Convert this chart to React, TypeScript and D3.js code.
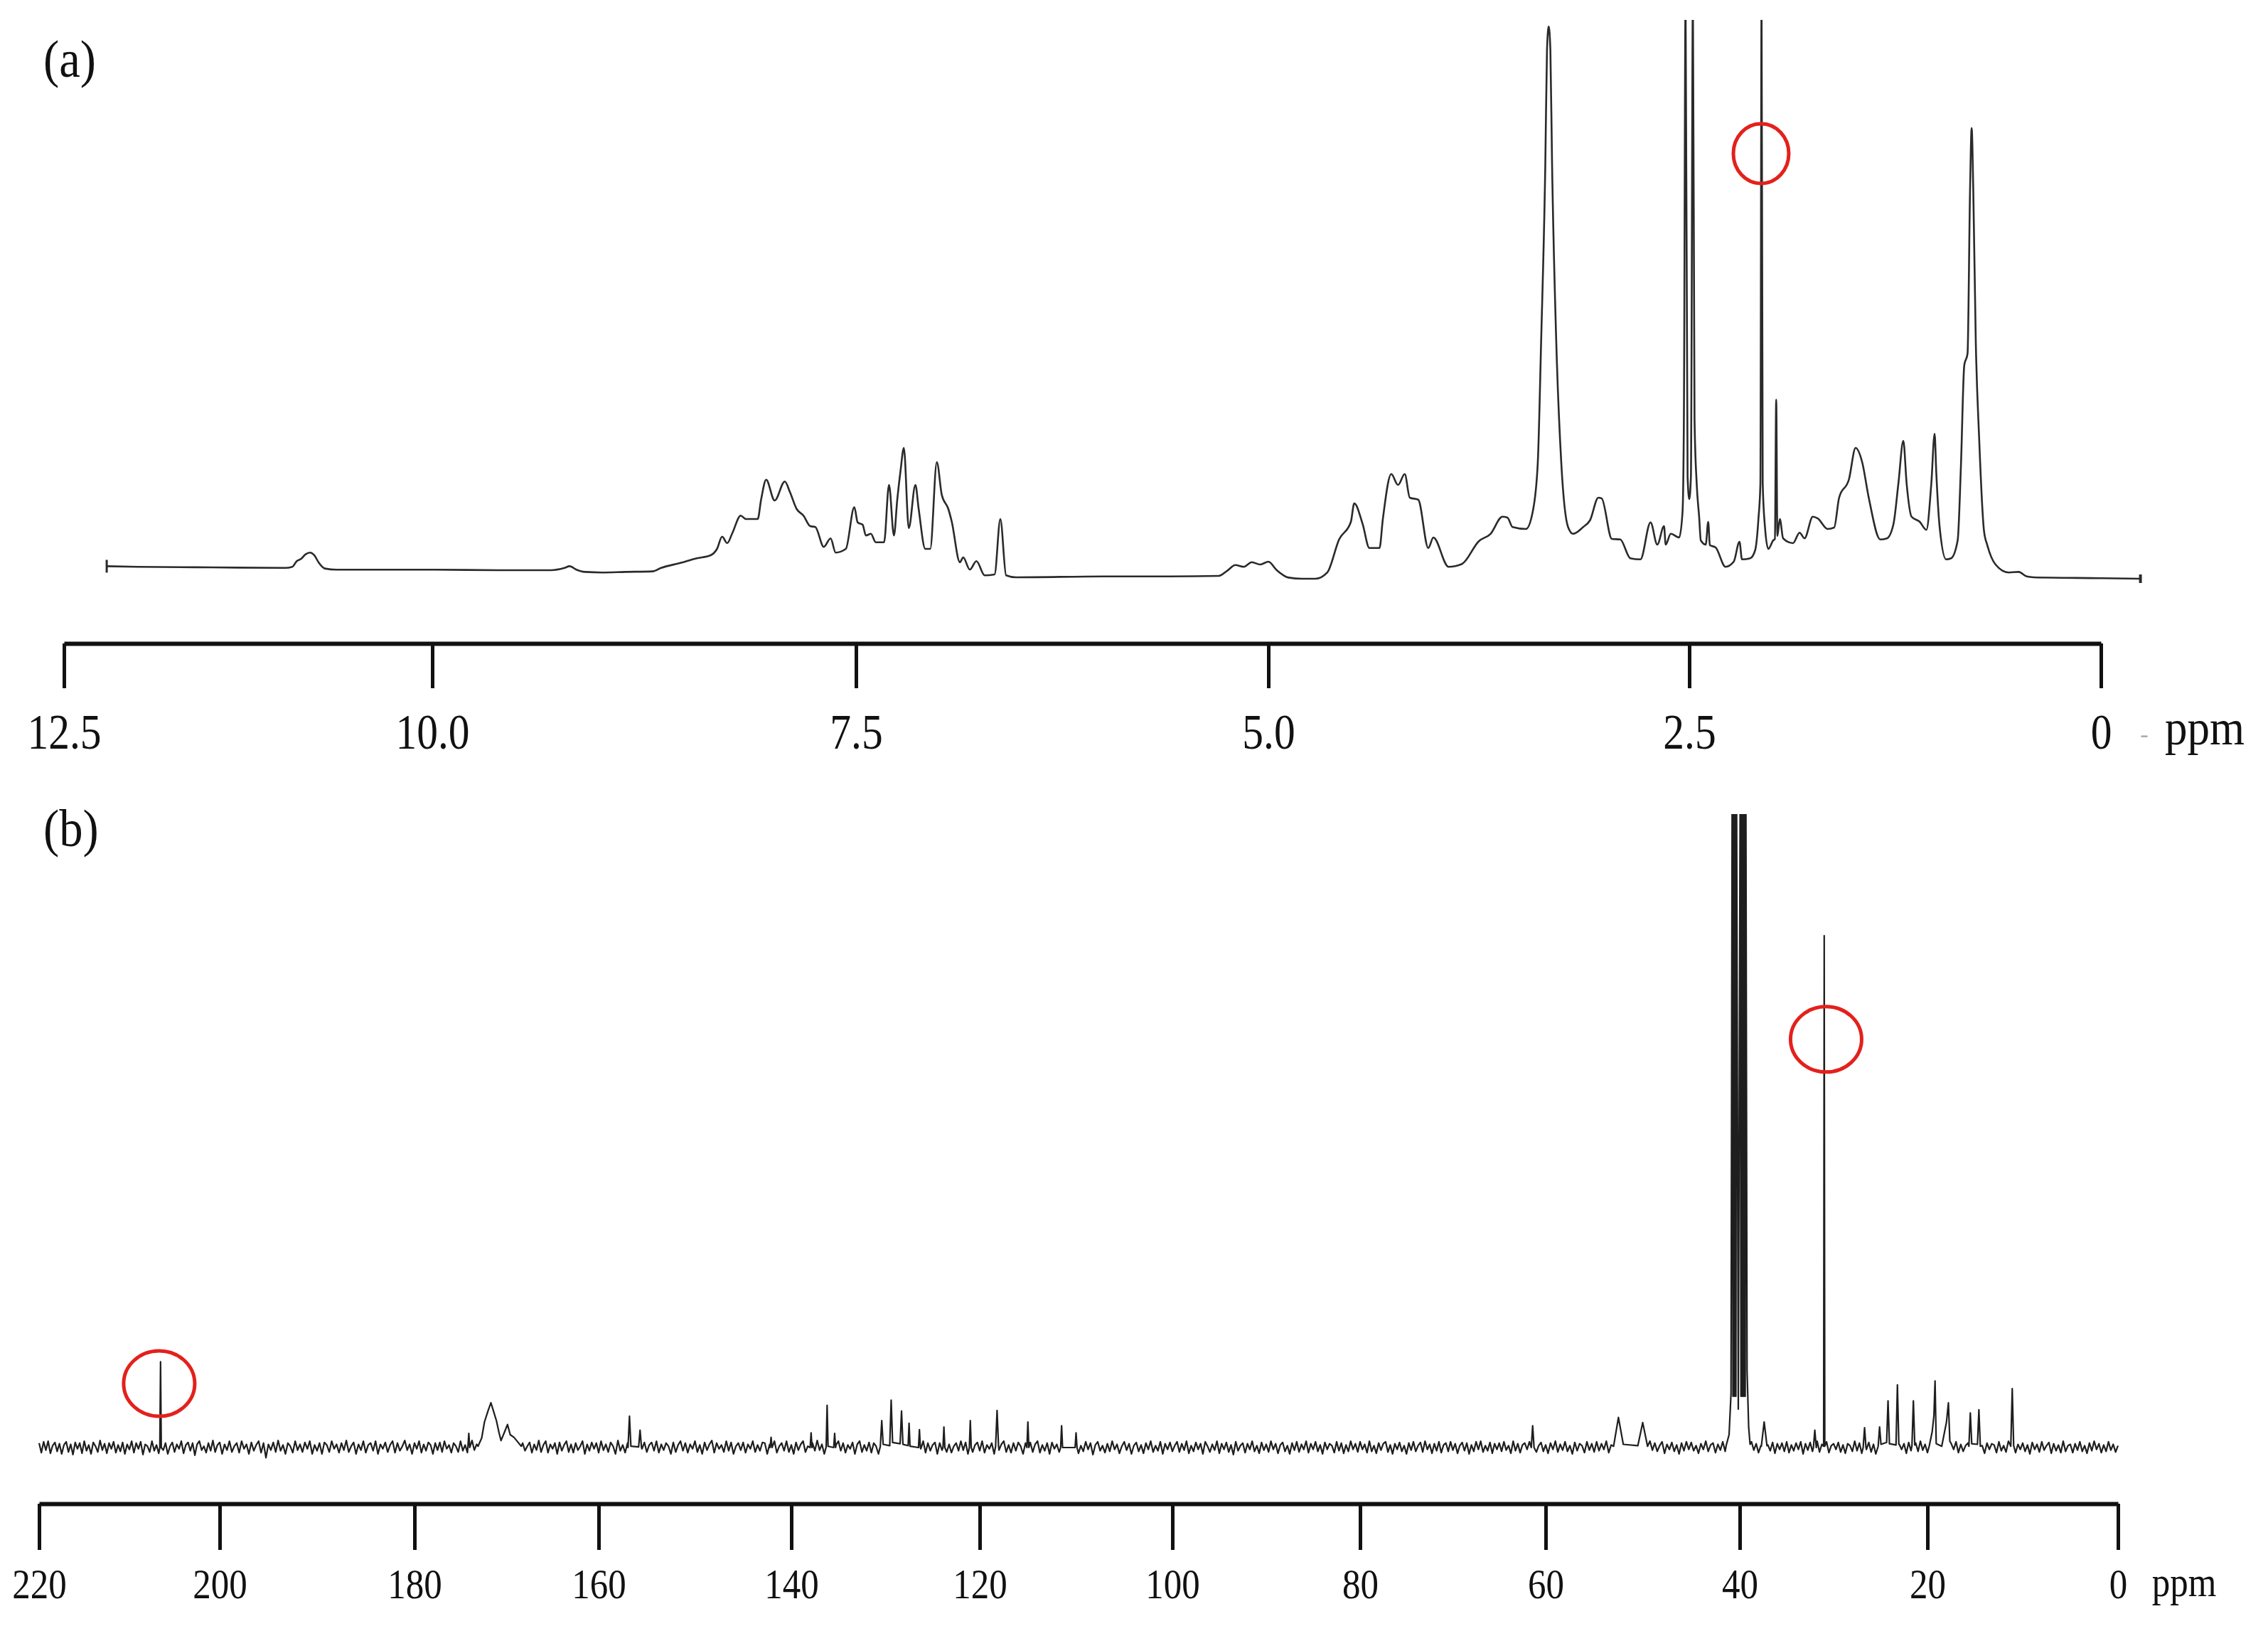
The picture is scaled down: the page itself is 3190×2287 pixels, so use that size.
import React, { useEffect, useRef } from "react";
import * as d3 from "d3";

const W = 3190;
const H = 2287;
const FONT = "'Liberation Serif', 'Times New Roman', serif";

// ---------- (a) 1H NMR ----------
const hTicks = [12.5, 10.0, 7.5, 5.0, 2.5, 0];
const hTickLabels = ["12.5", "10.0", "7.5", "5.0", "2.5", "0"];
// [ppm, relative intensity]
const hSpectrum: [number, number][] = [
  [12.21, 4.2], [12.0, 4.1], [11.5, 4.0], [11.0, 3.9], [10.95, 4.1], [10.92, 5.1], [10.89, 5.5],
  [10.86, 6.3], [10.83, 6.6], [10.8, 6.1], [10.77, 4.8], [10.73, 3.8], [10.65, 3.6], [10.3, 3.6],
  [10.0, 3.6], [9.6, 3.5], [9.3, 3.5], [9.22, 3.9], [9.19, 4.2], [9.15, 3.6], [9.1, 3.2], [9.0, 3.1],
  [8.86, 3.2], [8.7, 3.3], [8.65, 3.9], [8.54, 4.75], [8.44, 5.6], [8.36, 6.1], [8.32, 7.25],
  [8.29, 9.4], [8.26, 8.25], [8.23, 10.0], [8.18, 13.1], [8.15, 12.5], [8.08, 12.5], [8.06, 15.9],
  [8.03, 19.4], [7.98, 15.75], [7.92, 19.1], [7.89, 17.25], [7.85, 14.25], [7.81, 13.1],
  [7.77, 11.25], [7.74, 11.1], [7.69, 7.6], [7.65, 9.1], [7.62, 6.6], [7.56, 7.25], [7.51, 14.6],
  [7.49, 11.9], [7.46, 11.5], [7.44, 9.6], [7.41, 9.9], [7.38, 8.4], [7.33, 8.4], [7.3, 18.5],
  [7.27, 9.6], [7.25, 15.9], [7.23, 21.0], [7.21, 25.0], [7.18, 10.9], [7.14, 18.5], [7.12, 14.25],
  [7.08, 7.25], [7.05, 7.25], [7.01, 22.5], [6.98, 16.75], [6.94, 14.25], [6.92, 12.1], [6.87, 4.9],
  [6.85, 5.75], [6.81, 3.6], [6.77, 5.1], [6.72, 2.6], [6.66, 2.75], [6.625, 12.5], [6.59, 2.6],
  [6.53, 2.25], [6.0, 2.4], [5.6, 2.4], [5.3, 2.5], [5.25, 3.4], [5.2, 4.4], [5.15, 4.1], [5.1, 4.9],
  [5.05, 4.5], [5.0, 5.0], [4.95, 3.5], [4.88, 2.2], [4.8, 2.0], [4.72, 2.0], [4.65, 3.1],
  [4.58, 8.9], [4.51, 12.0], [4.49, 15.25], [4.44, 11.6], [4.4, 7.4], [4.34, 7.4], [4.32, 12.5],
  [4.27, 20.4], [4.23, 18.5], [4.19, 20.4], [4.16, 16.25], [4.11, 15.9], [4.05, 7.4], [4.02, 9.25],
  [3.93, 4.1], [3.85, 4.6], [3.75, 8.6], [3.68, 9.9], [3.61, 12.9], [3.58, 12.75], [3.55, 11.1],
  [3.47, 10.75], [3.43, 13.75], [3.4, 22.25], [3.38, 43.6], [3.355, 75], [3.345, 95], [3.335, 99.1],
  [3.325, 95], [3.315, 75], [3.29, 43.6], [3.26, 22.25], [3.22, 11.1], [3.19, 9.9], [3.13, 11.1],
  [3.09, 12.25], [3.04, 16.25], [3.02, 16.1], [2.96, 9.0], [2.91, 8.9], [2.85, 5.6], [2.79, 5.4],
  [2.73, 11.9], [2.69, 8.0], [2.65, 11.25], [2.64, 8.0], [2.61, 9.9], [2.56, 9.25], [2.54, 13.75],
  [2.532, 30], [2.522, 104], [2.51, 20], [2.5, 16], [2.49, 20], [2.478, 104], [2.468, 30],
  [2.455, 18.75], [2.44, 12.9], [2.43, 8.75], [2.4, 8.0], [2.385, 12.0],
  [2.375, 7.9], [2.34, 7.5], [2.28, 4.1], [2.23, 5.0], [2.195, 8.5], [2.18, 5.4], [2.13, 5.6],
  [2.1, 7.0], [2.08, 12.5], [2.068, 18.75], [2.061, 104], [2.054, 18.75], [2.04, 11], [2.02, 7.25],
  [1.99, 8.75], [1.98, 9], [1.972, 33.5], [1.965, 9.5], [1.95, 12.5], [1.93, 9.1], [1.87, 8.25],
  [1.83, 10.1], [1.8, 9.1], [1.75, 12.9], [1.72, 12.6], [1.66, 10.75], [1.62, 11.0], [1.59, 16.25],
  [1.53, 19.5], [1.49, 25.0], [1.45, 22.5], [1.41, 16.25], [1.34, 8.9], [1.3, 9.1], [1.26, 11.6],
  [1.23, 18.75], [1.2, 26.25], [1.18, 18.75], [1.15, 12.9], [1.1, 12.0], [1.06, 10.6], [1.03, 18.75],
  [1.01, 27.5], [1.0, 20.75], [0.98, 11.25], [0.94, 5.4], [0.91, 5.6], [0.87, 8.75], [0.85, 22.0],
  [0.83, 39.5], [0.81, 41.6], [0.795, 70], [0.785, 81.25], [0.775, 70], [0.76, 43.75], [0.74, 27.0],
  [0.71, 10.4], [0.69, 7.9], [0.64, 4.5], [0.56, 3.1], [0.5, 3.2], [0.45, 2.4], [0.41, 2.25],
  [0.0, 2.1], [-0.24, 2.0],
];
const hMarks: [number, number][] = [[2.064, 76.75]];

// ---------- (b) 13C NMR ----------
const cTicks = [220, 200, 180, 160, 140, 120, 100, 80, 60, 40, 20, 0];
const cTickLabels = ["220", "200", "180", "160", "140", "120", "100", "80", "60", "40", "20", "0"];
// baseline noise every 0.25 ppm from 220 down to 0
const cNoise = [
  0.7, -0.8, 0.9, -0.4, 1.0, -0.9, 0.3, 0.8, -0.6, 0.6, -1.0, 0.4, 0.9, -0.7, 0.5, -1.1, 0.8, -0.2, 0.7, -0.9,
  1.0, -0.5, 0.4, -1.0, 0.8, 0.2, -0.7, 1.1, -0.4, 0.6, -0.9, 0.7, -0.2, 0.9, -0.8, 0.4, -0.6, 0.8, -1.0, 0.5,
  -0.3, 1.0, -0.8, 0.7, -0.2, 0.9, -1.1, 0.5, 0.2, -0.7, 1.0, -0.5, 0.4, -0.9, 1.1, -0.4, 0.7, -1.0, 0.2, 0.8,
  -0.7, 0.5, -0.2, 1.0, -0.9, 0.4, 0.8, -0.5, 0.7, -1.2, 0.5, 1.0, -0.4, 0.2, -0.8, 0.7, -0.5, 1.1, -0.7, 0.4,
  0.8, -1.0, 0.5, -0.4, 1.0, -0.7, 0.2, 0.7, -0.8, 1.0, -0.2, 0.5, -1.0, 0.8, -0.5, 0.4, 1.0, -0.8, 0.7, -1.6,
  0.5, -0.4, 0.8, -0.7, 1.1, -0.5, 0.4, -1.0, 0.7, 0.2, -0.8, 1.0, -0.4, 0.5, -0.7, 0.8, -0.2, 1.0, -1.0, 0.4,
  -0.5, 0.7, -1.0, 0.8, 0.4, -0.7, 1.0, -0.2, 0.5, -0.8, 0.7, -0.4, 1.1, -0.7, 0.2, 0.8, -1.0, 0.5, -0.4, 1.0,
  -0.8, 0.4, 0.7, -0.5, 1.0, -1.0, 0.5, -0.2, 0.8, -0.7, 0.4, 1.0, -0.8, 0.7, -0.5, 0.2, 1.1, -0.4, 0.5, -1.0,
  0.7, -0.2, 1.0, -0.8, 0.5, -0.5, 0.8, 0.4, -1.0, 0.7, -0.4, 0.8, -0.7, 1.0, -0.2, 0.4, -0.8, 0.7, 0.2, -0.7,
  1.0, -0.5, 0.4, -0.8, 0.7, 1.1, -0.4, 0.5, -1.0, 0.8, -0.7, 0.2, 1.0, -0.5, 0.7, -0.8, 0.4, -0.2, 0.8, -1.0,
  0.5, 0.8, -0.7, 0.4, -1.0, 1.0, -0.4, 0.7, -0.5, 0.2, 0.8, -0.8, 0.5, -0.4, 1.1, -0.7, 0.4, 1.0, -0.8, 0.5,
  -0.2, 0.7, -1.0, 0.8, -0.5, 0.4, 1.0, -0.7, 0.5, -0.8, 0.7, -0.4, 0.2, 1.0, -1.0, 0.5, -0.5, 0.8, -0.2, 0.7,
  -0.8, 1.0, -0.4, 0.5, -0.7, 0.8, 0.2, -1.0, 1.1, -0.5, 0.4, -0.8, 0.7, 1.0, -0.4, 0.5, -1.0, 0.7, -0.2, 0.8,
  -0.7, 0.4, 0.8, -0.5, 1.0, -0.8, 0.5, -0.4, 0.7, 0.2, -1.0, 0.8, -0.7, 0.4, 1.0, -0.5, 0.7, -0.8, 0.5, -0.2,
  1.0, -0.7, 0.4, -1.0, 0.8, -0.4, 0.5, 1.1, -0.8, 0.7, -0.2, 0.4, -0.7, 1.0, -0.5, 0.8, -1.0, 0.2, 0.7, -0.4,
  0.8, -0.8, 0.5, -0.2, 1.0, -0.7, 0.4, -0.5, 0.8, 0.7, -1.0, 0.5, -0.4, 1.0, -0.8, 0.2, 0.7, -0.5, 1.0, -0.7,
  0.4, -1.0, 0.8, -0.4, 0.5, 1.0, -0.7, 0.2, -0.8, 0.7, -0.5, 1.1, -0.4, 0.5, -1.0, 0.8, -0.2, 0.7, -0.7, 0.4,
  1.0, -0.5, 0.7, -0.8, 0.4, -0.2, 0.8, -1.0, 0.5, 1.0, -0.7, 0.4, -0.5, 0.8, -0.8, 0.7, 0.2, -1.0, 0.5, -0.4,
  0.8, -0.7, 1.0, -0.5, 0.2, 0.7, -0.8, 0.5, -0.4, 1.0, -1.0, 0.4, 0.8, -0.7, 0.5, -0.2, 1.0, -0.8, 0.7, -0.5,
  0.4, 0.8, -1.0, 0.7, -0.4, 1.0, -0.7, 0.5, -0.8, 0.2, 0.7, -0.5, 1.0, -0.4, 0.8, -1.0, 0.5, -0.7, 0.4, 0.8,
  -0.5, 1.0, -0.8, 0.4, -0.2, 0.7, -1.0, 0.8, -0.4, 0.5, 1.0, -0.7, 0.4, -0.8, 0.7, -0.5, 0.8, 0.2, -1.0, 0.7,
  -0.4, 0.8, -0.7, 0.5, 1.0, -0.8, 0.4, -0.5, 0.7, -1.0, 0.8, -0.2, 0.5, -0.7, 1.0, -0.4, 0.7, -0.8, 0.5, -0.2,
  0.6, -0.9, 0.3, -0.6, 0.9, -0.3, 0.7, -1.1, 0.4, 0.9, -0.5, 0.3, -0.8, 0.6, -0.6, 1.0, -0.3, 0.5, -0.9, 0.2,
  0.9, -0.4, 0.6, -1.0, 0.3, 0.8, -0.6, 0.4, -0.9, 0.7, -0.3, 1.0, -0.7, 0.3, -0.5, 0.9, -1.0, 0.6, -0.3, 0.8,
  -0.6, 0.3, 0.9, -0.7, 0.6, -0.4, 1.0, -0.9, 0.3, -0.6, 0.8, -0.3, 0.6, -1.0, 0.9, 0.2, -0.7, 0.5, -0.4, 1.0,
  -0.9, 0.6, -0.3, 0.8, -0.7, 0.4, -1.1, 0.9, -0.5, 0.3, 0.7, -0.8, 0.6, -0.3, 1.0, -0.6, 0.3, -0.9, 0.8, -0.4,
  0.5, -0.7, 1.0, -0.3, 0.6, -0.9, 0.4, 0.8, -0.6, 0.3, -1.0, 0.7, -0.4, 0.9, -0.7, 0.5, -0.3, 1.0, -0.8, 0.6,
  -0.3, 0.9, -0.6, 0.4, -1.0, 0.8, -0.3, 0.6, 0.3, -0.8, 0.9, -0.5, 0.7, -0.9, 0.4, -0.6, 1.0, -0.3, 0.6, -0.7,
  0.9, -0.3, 0.5, -0.8, 1.0, -0.6, 0.3, -0.9, 0.7, -0.4, 0.6, 0.9, -0.7, 0.4, -1.0, 0.6, -0.3, 0.8, -0.6, 0.3,
  -1.0, 0.7, -0.4, 0.9, -0.6, 0.3, 0.8, -0.7, 1.0, -0.3, 0.5, -0.9, 0.6, -0.5, 0.9, -0.8, 0.4, 0.7, -0.6, 0.9,
  -0.4, 0.6, -0.9, 0.3, 0.8, -0.5, 0.7, -1.0, 0.4, -0.6, 0.9, -0.3, 1.0, -0.7, 0.3, -0.5, 0.8, -0.9, 0.6, -0.3,
  0.7, -0.6, 0.9, -0.4, 0.3, -0.9, 1.0, -0.5, 0.6, -0.8, 0.4, 0.7, -0.3, 0.9, -1.0, 0.5, -0.7, 0.3, 0.8, -0.6,
  0.4, -0.9, 0.7, -0.3, 1.0, -0.7, 0.5, -0.4, 0.9, -0.6, 0.3, -1.0, 0.8, -0.5, 0.6, 0.3, -0.8, 0.9, -0.4, 0.6,
  -0.7, 0.9, -0.5, 0.6, -0.3, 1.0, -0.8, 0.4, -0.6, 0.7, -0.9, 0.3, 0.6, -0.4, 0.9, -0.7, 0.5, -1.0, 0.3, 0.7,
  -0.6, 0.4, -0.8, 1.0, -0.4, 0.7, -0.6, 0.3, 0.9, -0.9, 0.5, -0.3, 0.8, -0.6, 0.4, -1.0, 0.7, -0.5, 0.9, -0.3,
  0.8, -0.5, 0.3, -0.9, 0.6, -0.3, 1.0, -0.6, 0.4, 0.7, -0.8, 0.5, -0.4, 0.9, -0.6, 0.3, -0.9, 1.0, -0.5, 0.6,
  -0.3, 0.7, -1.0, 0.5, -0.6, 0.9, -0.4, 0.6, -0.8, 0.3, 1.0, -0.7, 0.4, -0.5, 0.8, -0.9, 0.6, -0.3, 0.7, -0.6,
  0.9, -0.8, 0.4, -0.5, 0.7, -0.3, 0.9, -1.0, 0.6, -0.4, 0.8, -0.6, 0.3, 1.0, -0.7, 0.5, -0.4, 0.9, -0.8, 0.3,
  0.6, -0.3, 0.8, -0.7, 0.4, -0.9, 0.6, 0.3, -0.6, 1.0, -0.5, 0.7, -0.9, 0.4, -0.3, 0.8, -0.7, 0.5, -1.0, 0.9,
  -0.5, 0.3, 0.9, -0.6, 0.7, -0.4, 1.0, -0.8, 0.5, -0.3, 0.6, -0.9, 0.8, -0.5, 0.3, 0.7, -0.6, 1.0, -0.4, 0.5,
  -0.8, 0.6, -0.3, 0.9, -0.7, 0.5, -0.5, 0.8, -1.0, 0.4, 0.6, -0.3, 0.9, -0.8, 0.5, -0.6, 0.3, 0.7, -0.9, 0.6,
  -0.4, 1.0, -0.6, 0.3, -0.9, 0.7, -0.3, 0.6, 0.4, -0.8, 0.9, -0.5, 0.3, -0.7, 1.0, -0.4, 0.6, -0.8, 0.5, -0.3,
  0.7, -0.6, 0.4, -1.0, 0.8, -0.3, 0.5, -0.7, 0.9, -0.4, 0.3, 0.8, -0.9, 0.6, -0.5, 0.4, -0.8, 1.0, -0.6, 0.3,
  0.5, -0.8, 0.6, -0.4, 0.9, -0.6, 0.3, -0.9, 0.7, -0.5, 1.0, -0.3, 0.6, -0.8, 0.4, -0.6, 0.9, -0.4, 0.5, -0.7,
  0.3,
];
// signals: groups of [ppm, intensity]
const cPeaks: [number, number][][] = [
  [[206.63, 0], [206.55, 13.4], [206.47, 0]],
  [[174.2, 0.1], [174.1, 2.2], [174.0, 0]],
  [[173.1, 0.2], [172.7, 1.5], [172.4, 4.0], [172.0, 5.8], [171.7, 7.0], [171.4, 5.6], [171.1, 4.2],
   [170.8, 2.2], [170.6, 1.1], [170.2, 2.5], [169.9, 3.6], [169.6, 2.0], [169.2, 1.6], [168.8, 0.9], [168.4, 0.2]],
  [[156.95, 0], [156.8, 4.9], [156.65, 0.2], [155.85, 0.1], [155.7, 2.7], [155.55, 0]],
  [[142.2, 0], [142.1, 1.6], [142.0, 0]],
  [[138.0, 0], [137.9, 2.3], [137.8, 0]],
  [[136.3, 0.1], [136.2, 6.6], [136.1, 0.2], [135.5, 0], [135.4, 2.2], [135.3, 0]],
  [[130.55, 0.2], [130.4, 4.2], [130.25, 0.5], [129.55, 0.3], [129.4, 7.4], [129.25, 0.8], [128.45, 0.6],
   [128.3, 5.7], [128.15, 0.5], [127.6, 0.3], [127.5, 3.8], [127.4, 0.2], [126.5, 0], [126.4, 2.8], [126.3, 0]],
  [[123.9, 0], [123.8, 3.2], [123.7, 0]],
  [[121.1, 0], [121.0, 4.2], [120.9, 0]],
  [[118.35, 0.2], [118.2, 5.8], [118.05, 0.3]],
  [[115.1, 0], [115.0, 4.0], [114.9, 0]],
  [[111.6, 0], [111.5, 3.4], [111.4, 0], [110.1, 0], [110.0, 2.3], [109.9, 0]],
  [[61.55, 0], [61.4, 3.4], [61.25, 0]],
  [[53.0, 0.2], [52.5, 4.7], [52.0, 0.5], [50.5, 0.3], [50.0, 3.9], [49.5, 0.2]],
  [[41.4, 0.3], [41.1, 2], [40.9, 8.4], [40.78, 105], [40.7, 8], [40.63, 105], [40.55, 8], [40.48, 105],
   [40.4, 8], [40.33, 105], [40.15, 6], [39.95, 105], [39.87, 8], [39.8, 105], [39.72, 8], [39.65, 105],
   [39.57, 8], [39.5, 105], [39.42, 8], [39.35, 105], [39.22, 12], [39.05, 3.2], [38.9, 0.5]],
  [[37.7, 0.2], [37.4, 4.0], [37.1, 0.3]],
  [[32.15, 0], [32.0, 2.7], [31.85, 0]],
  [[31.06, 0.2], [31.0, 80], [30.94, 0.2]],
  [[26.85, 0], [26.7, 3.1], [26.55, 0]],
  [[25.25, 0.2], [25.1, 3.2], [24.95, 0.5], [24.35, 0.8], [24.2, 7.3], [24.05, 0.6], [23.35, 0.4],
   [23.2, 9.8], [23.05, 0.5]],
  [[21.65, 0.3], [21.5, 7.3], [21.35, 0.4]],
  [[19.8, 0.3], [19.5, 2.5], [19.32, 5], [19.2, 10.4], [19.08, 0.6], [18.5, 0.2], [18.0, 4], [17.8, 7.0],
   [17.65, 1.0]],
  [[15.65, 0.2], [15.5, 5.4], [15.35, 0.6], [14.75, 0.5], [14.6, 5.9], [14.45, 0.2]],
  [[11.25, 0.2], [11.1, 9.2], [10.95, 0.3]],
];
const cMarks: [number, number][] = [[206.7, 10], [30.8, 63.8]];

// piecewise scales follow the printed tick spacing
const xH = d3.scaleLinear().domain(hTicks).range([90, 608, 1204, 1784, 2376, 2955]);
const yH = d3.scaleLinear().domain([0, 100]).range([830, 30]);
const xC = d3.scaleLinear().domain(cTicks).range([55, 309, 583, 842, 1113, 1378, 1649, 1913, 2174, 2447, 2711, 2979]);
const yC = d3.scaleLinear().domain([0, 100]).range([2036, 1136]);

function buildCarbon(): [number, number][] {
  const ranges = cPeaks.map((g) => d3.extent(g, (d) => d[0]) as [number, number]);
  const base: [number, number][] = cNoise
    .map((v, i) => [220 - i * 0.25, v] as [number, number])
    .filter(([p]) => !ranges.some(([lo, hi]) => p >= lo && p <= hi));
  const all = base.concat(...cPeaks);
  return all.sort((a, b) => b[0] - a[0]);
}

type AxisProps = {
  scale: d3.ScaleLinear<number, number>;
  y: number;
  ticks: number[];
  labels: string[];
  size: number;
  fontSize: number;
  labelY: number;
  sx: number;
};

function Axis({ scale, y, ticks, labels, size, fontSize, labelY, sx }: AxisProps) {
  const ref = useRef<SVGGElement>(null);
  useEffect(() => {
    const g = d3.select(ref.current);
    g.selectAll("*").remove();
    g.call(
      d3.axisBottom(scale)
        .tickValues(ticks)
        .tickSize(size)
        .tickSizeOuter(0)
        .tickFormat((_d, i) => labels[i])
    );
    g.select(".domain").attr("stroke", "#111").attr("stroke-width", 6);
    g.selectAll(".tick line").attr("stroke", "#111").attr("stroke-width", 5);
    g.selectAll(".tick text")
      .attr("y", labelY)
      .attr("dy", 0)
      .attr("fill", "#111")
      .attr("font-size", fontSize)
      .attr("font-family", FONT)
      .attr("transform", `scale(${sx},1)`);
  }, []);
  return <g ref={ref} transform={`translate(0,${y})`} />;
}

export default function App() {
  const hLine = d3.line<[number, number]>()
    .x((d) => xH(d[0]))
    .y((d) => yH(d[1]))
    .curve(d3.curveMonotoneX);
  const carbon = buildCarbon();
  const cLine = d3.line<[number, number]>()
    .x((d) => xC(d[0]))
    .y((d) => yC(d[1]));

  const hFirst = hSpectrum[0];
  const hLast = hSpectrum[hSpectrum.length - 1];

  return (
    <svg
      width={W}
      height={H}
      viewBox={`0 0 ${W} ${H}`}
      style={{ position: "absolute", left: 0, top: 0, display: "block", background: "#fff" }}
    >
      <defs>
        <clipPath id="clipA">
          <rect x={0} y={28} width={W} height={880} />
        </clipPath>
        <clipPath id="clipB">
          <rect x={0} y={1145} width={W} height={960} />
        </clipPath>
      </defs>
      <rect width={W} height={H} fill="#fff" />

      {/* (a) */}
      <text transform="translate(61,108) scale(0.9,1)" fontFamily={FONT} fontSize={74} fill="#111">(a)</text>
      <g clipPath="url(#clipA)">
        <path d={hLine(hSpectrum) || ""} fill="none" stroke="#2a2a2a" strokeWidth={2.6} strokeLinejoin="round" />
      </g>
      <line x1={xH(hFirst[0])} x2={xH(hFirst[0])} y1={yH(hFirst[1]) - 9} y2={yH(hFirst[1]) + 9} stroke="#2a2a2a" strokeWidth={3} />
      <line x1={xH(hLast[0])} x2={xH(hLast[0])} y1={yH(hLast[1]) - 6} y2={yH(hLast[1]) + 6} stroke="#2a2a2a" strokeWidth={4} />
      {hMarks.map(([p, v], i) => (
        <ellipse key={i} cx={xH(p)} cy={yH(v)} rx={39} ry={42} fill="none" stroke="#e3211c" strokeWidth={5} />
      ))}
      <Axis scale={xH} y={905} ticks={hTicks} labels={hTickLabels} size={63} fontSize={70} labelY={148} sx={0.85} />
      <text x={3016} y={1044} textAnchor="middle" fontFamily={FONT} fontSize={34} fill="#aaa">-</text>
      <text transform="translate(3101,1047) scale(0.9,1)" textAnchor="middle" fontFamily={FONT} fontSize={70} fill="#111">ppm</text>

      {/* (b) */}
      <text transform="translate(61,1190) scale(0.9,1)" fontFamily={FONT} fontSize={74} fill="#111">(b)</text>
      <g clipPath="url(#clipB)">
        <path d={cLine(carbon) || ""} fill="none" stroke="#1e1e1e" strokeWidth={2.2} strokeLinejoin="round" />
      </g>
      {cMarks.map(([p, v], i) => (
        <ellipse key={i} cx={xC(p)} cy={yC(v)} rx={50} ry={46} fill="none" stroke="#e3211c" strokeWidth={5} />
      ))}
      <Axis scale={xC} y={2115} ticks={cTicks} labels={cTickLabels} size={65} fontSize={60} labelY={133} sx={0.85} />
      <text transform="translate(3072,2245) scale(0.85,1)" textAnchor="middle" fontFamily={FONT} fontSize={60} fill="#111">ppm</text>
    </svg>
  );
}
